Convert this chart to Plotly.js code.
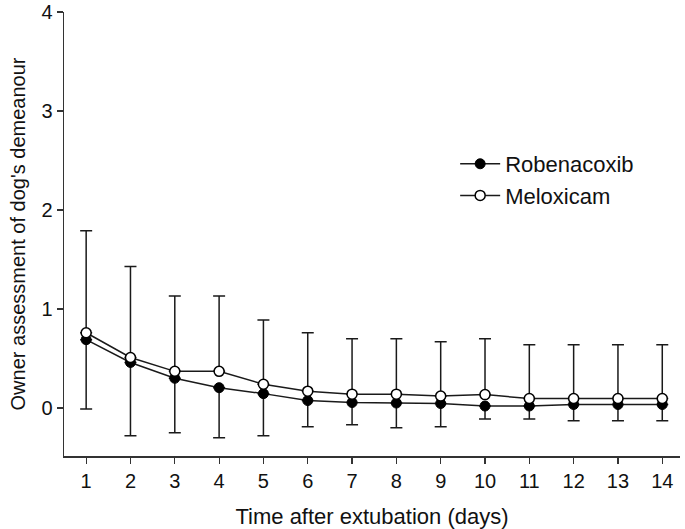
<!DOCTYPE html>
<html>
<head>
<meta charset="utf-8">
<script src="https://cdn.plot.ly/plotly-3.0.1.min.js"></script>
<style>html,body{margin:0;padding:0;background:#fff;}#chart{width:685px;height:529px;}</style>
</head>
<body>
<div id="chart"></div>
<script>
const days = [1,2,3,4,5,6,7,8,9,10,11,12,13,14];
const robenacoxib = [0.69,0.46,0.30,0.205,0.145,0.075,0.055,0.05,0.045,0.02,0.02,0.035,0.035,0.035];
const meloxicam = [0.76,0.51,0.37,0.37,0.24,0.17,0.14,0.14,0.12,0.135,0.095,0.095,0.095,0.095];
const robenacoxibLower = [-0.01,-0.28,-0.25,-0.30,-0.28,-0.19,-0.17,-0.20,-0.19,-0.11,-0.11,-0.13,-0.13,-0.13];
const meloxicamUpper = [1.79,1.43,1.13,1.13,0.89,0.76,0.70,0.70,0.67,0.70,0.64,0.64,0.64,0.64];

const robMinus = robenacoxib.map((v,i)=>v-robenacoxibLower[i]);
const melPlus = meloxicam.map((v,i)=>meloxicamUpper[i]-v);
const zeros = days.map(()=>0);

const ink = '#1a1a1a';
const traces = [
  {
    x: days, y: robenacoxib, name: 'Robenacoxib', type: 'scatter', mode: 'lines+markers',
    line: {color: ink, width: 1.5},
    marker: {symbol: 'circle', size: 10, color: '#000', line: {color: '#000', width: 1}},
    error_y: {type: 'data', symmetric: false, array: zeros, arrayminus: robMinus, color: ink, thickness: 1.5, width: 6}
  },
  {
    x: days, y: meloxicam, name: 'Meloxicam', type: 'scatter', mode: 'lines+markers',
    line: {color: ink, width: 1.5},
    marker: {symbol: 'circle', size: 10, color: '#fff', line: {color: '#000', width: 1.5}},
    error_y: {type: 'data', symmetric: false, array: melPlus, arrayminus: zeros, color: ink, thickness: 1.5, width: 6}
  }
];

const fam = 'Liberation Sans, Arial, sans-serif';
const tickFont = {family: fam, size: 20, color: '#111'};
const bigFont = {family: fam, size: 22, color: '#111'};
const layout = {
  width: 685, height: 529,
  margin: {l: 64, r: 5, t: 12, b: 73},
  paper_bgcolor: '#fff', plot_bgcolor: '#fff',
  font: tickFont,
  showlegend: true,
  legend: {x: 0.635, y: 0.705, xanchor: 'left', yanchor: 'top', font: bigFont, bgcolor: 'rgba(0,0,0,0)', tracegroupgap: 0, itemwidth: 40},
  xaxis: {
    range: [0.5, 14.4], tickvals: days, ticktext: days.map(String),
    showgrid: false, zeroline: false, showline: true, linecolor: '#333', linewidth: 1.5,
    ticks: 'outside', ticklen: 6, tickwidth: 1.2, tickcolor: '#333',
    tickfont: tickFont,
    title: {text: 'Time after extubation (days)', font: bigFont, standoff: 18}
  },
  yaxis: {
    range: [-0.485, 4], tickvals: [0,1,2,3,4],
    showgrid: false, zeroline: false, showline: true, linecolor: '#333', linewidth: 1.5,
    ticks: 'outside', ticklen: 6, tickwidth: 1.2, tickcolor: '#333',
    tickfont: tickFont,
    title: {text: "Owner assessment of dog's demeanour", font: {family: fam, size: 20, color: '#111'}, standoff: 10}
  }
};
Plotly.newPlot('chart', traces, layout, {displayModeBar: false, staticPlot: true});
</script>
</body>
</html>
